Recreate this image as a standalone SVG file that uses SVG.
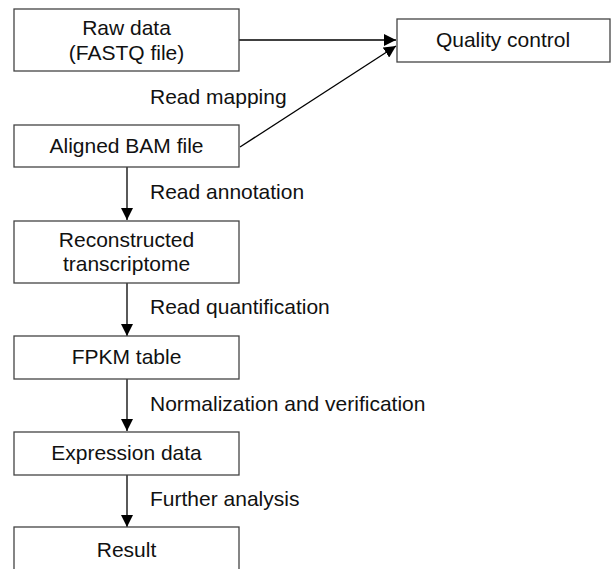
<svg xmlns="http://www.w3.org/2000/svg" width="611" height="569" viewBox="0 0 611 569">
<style>
.box{fill:#fff;stroke:#444;stroke-width:1.3}
.t{font-family:"Liberation Sans",Arial,sans-serif;font-size:21px;fill:#111;text-anchor:middle}
.l{font-family:"Liberation Sans",Arial,sans-serif;font-size:21px;fill:#111}
.c{stroke:#000;stroke-width:1.3;fill:none;marker-end:url(#ah)}
</style>
<defs>
<marker id="ah" viewBox="0 0 12 12" refX="12" refY="6" markerWidth="12" markerHeight="12" markerUnits="userSpaceOnUse" orient="auto">
<path d="M0,0 L12,6 L0,12 Z" fill="#000"/>
</marker>
</defs>
<g id="connectors">
<line class="c" x1="239" y1="40" x2="396" y2="40"/>
<line class="c" x1="240" y1="147" x2="396" y2="46"/>
<line class="c" x1="127" y1="167" x2="127" y2="220"/>
<line class="c" x1="127" y1="283" x2="127" y2="336"/>
<line class="c" x1="127" y1="379" x2="127" y2="431"/>
<line class="c" x1="127" y1="475" x2="127" y2="527"/>
<text class="l" x="150" y="104">Read mapping</text>
<text class="l" x="150" y="199">Read annotation</text>
<text class="l" x="150" y="314">Read quantification</text>
<text class="l" x="150" y="411">Normalization and verification</text>
<text class="l" x="150" y="506">Further analysis</text>
</g>
<g id="raw"><rect class="box" x="14" y="9" width="225" height="62"/><text class="t" x="126.5" y="35">Raw data</text><text class="t" x="126.5" y="60">(FASTQ file)</text></g>
<g id="qc"><rect class="box" x="397" y="19" width="213" height="43"/><text class="t" x="503" y="47">Quality control</text></g>
<g id="bam"><rect class="box" x="14" y="125" width="225" height="42"/><text class="t" x="126.5" y="153">Aligned BAM file</text></g>
<g id="recon"><rect class="box" x="14" y="221" width="225" height="62"/><text class="t" x="126.5" y="247">Reconstructed</text><text class="t" x="126.5" y="271">transcriptome</text></g>
<g id="fpkm"><rect class="box" x="14" y="336" width="225" height="43"/><text class="t" x="126.5" y="364">FPKM table</text></g>
<g id="expr"><rect class="box" x="14" y="432" width="225" height="43"/><text class="t" x="126.5" y="460">Expression data</text></g>
<g id="result"><rect class="box" x="14" y="527" width="225" height="60"/><text class="t" x="126.5" y="557">Result</text></g>
</svg>
